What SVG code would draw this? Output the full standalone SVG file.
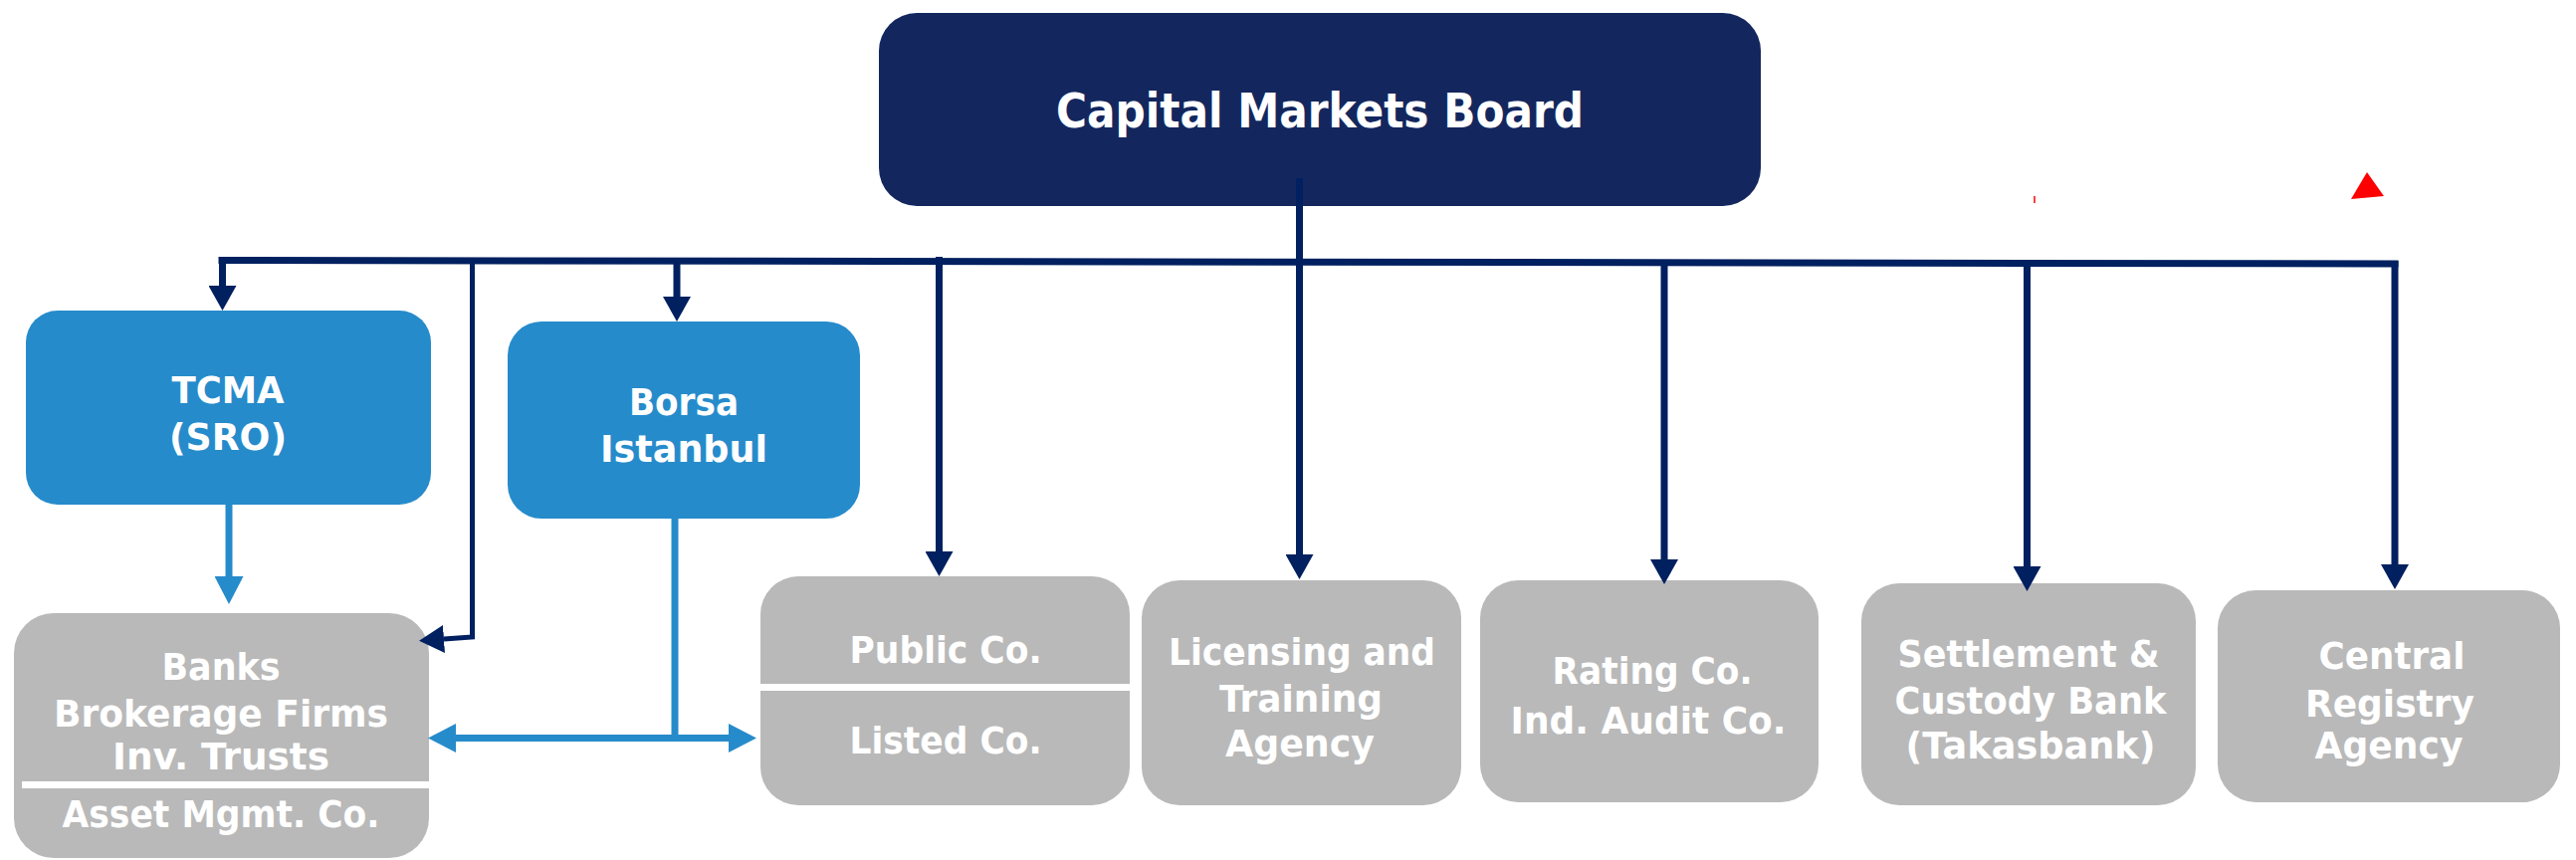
<svg xmlns="http://www.w3.org/2000/svg" width="2588" height="864" viewBox="0 0 2588 864">
<style>
.lbl{font-family:"DejaVu Sans","Verdana","Liberation Sans",sans-serif;font-weight:bold;font-size:38px;fill:#ffffff;text-anchor:middle}
.gray{fill:#B9B9B9}
.lblue{fill:#268BCB}
.navy{fill:none;stroke:#002060;stroke-width:7}
.blue{fill:none;stroke:#268BCB;stroke-width:7}
.div{stroke:#ffffff;stroke-width:7}
</style>
<defs>
<marker id="an" viewBox="0 0 25 28" refX="0" refY="14" markerWidth="25" markerHeight="28" markerUnits="userSpaceOnUse" orient="auto-start-reverse">
<path d="M0,0 L25,14 L0,28 z" fill="#002060"/>
</marker>
<marker id="ab" viewBox="0 0 28 29" refX="0" refY="14.5" markerWidth="28" markerHeight="29" markerUnits="userSpaceOnUse" orient="auto-start-reverse">
<path d="M0,0 L28,14.5 L0,29 z" fill="#268BCB"/>
</marker>
</defs>
<rect width="2588" height="864" fill="#ffffff"/>

<g id="cmb">
<rect x="883" y="13" width="886" height="194" rx="38" fill="#13275E"/>
<text class="lbl" x="1326" y="128" style="font-size:48px" textLength="530" lengthAdjust="spacingAndGlyphs">Capital Markets Board</text>
</g>

<g id="tcma">
<rect class="lblue" x="26" y="312" width="407" height="195" rx="32"/>
<text class="lbl" x="229" y="405" textLength="113" lengthAdjust="spacingAndGlyphs">TCMA</text>
<text class="lbl" x="229" y="452" textLength="118" lengthAdjust="spacingAndGlyphs">(SRO)</text>
</g>

<g id="borsa">
<rect class="lblue" x="510" y="323" width="354" height="198" rx="34"/>
<text class="lbl" x="687" y="417" textLength="110" lengthAdjust="spacingAndGlyphs">Borsa</text>
<text class="lbl" x="687" y="464" textLength="168" lengthAdjust="spacingAndGlyphs">Istanbul</text>
</g>

<g id="banks">
<rect class="gray" x="14" y="616" width="417" height="246" rx="40"/>
<line class="div" x1="22" y1="788.5" x2="431" y2="788.5"/>
<text class="lbl" x="222" y="683" textLength="119" lengthAdjust="spacingAndGlyphs">Banks</text>
<text class="lbl" x="222" y="730" textLength="336" lengthAdjust="spacingAndGlyphs">Brokerage Firms</text>
<text class="lbl" x="222" y="773" textLength="218" lengthAdjust="spacingAndGlyphs">Inv. Trusts</text>
<text class="lbl" x="222" y="831" textLength="319" lengthAdjust="spacingAndGlyphs">Asset Mgmt. Co.</text>
</g>

<g id="public">
<rect class="gray" x="764" y="579" width="371" height="230" rx="38"/>
<line class="div" x1="764" y1="690.5" x2="1135" y2="690.5"/>
<text class="lbl" x="950" y="666" textLength="193" lengthAdjust="spacingAndGlyphs">Public Co.</text>
<text class="lbl" x="950" y="757" textLength="193" lengthAdjust="spacingAndGlyphs">Listed Co.</text>
</g>

<g id="licensing">
<rect class="gray" x="1147" y="583" width="321" height="226" rx="38"/>
<text class="lbl" x="1308" y="668" textLength="268" lengthAdjust="spacingAndGlyphs">Licensing and</text>
<text class="lbl" x="1307" y="715" textLength="164" lengthAdjust="spacingAndGlyphs">Training</text>
<text class="lbl" x="1306" y="760" textLength="150" lengthAdjust="spacingAndGlyphs">Agency</text>
</g>

<g id="rating">
<rect class="gray" x="1487" y="583" width="340" height="223" rx="38"/>
<text class="lbl" x="1660" y="687" textLength="201" lengthAdjust="spacingAndGlyphs">Rating Co.</text>
<text class="lbl" x="1656" y="737" textLength="277" lengthAdjust="spacingAndGlyphs">Ind. Audit  Co.</text>
</g>

<g id="settlement">
<rect class="gray" x="1870" y="586" width="336" height="223" rx="38"/>
<text class="lbl" x="2038" y="670" textLength="263" lengthAdjust="spacingAndGlyphs">Settlement &amp;</text>
<text class="lbl" x="2040" y="717" textLength="273" lengthAdjust="spacingAndGlyphs">Custody Bank</text>
<text class="lbl" x="2040" y="762" textLength="251" lengthAdjust="spacingAndGlyphs">(Takasbank)</text>
</g>

<g id="central">
<rect class="gray" x="2228" y="593" width="344" height="213" rx="38"/>
<text class="lbl" x="2403" y="672" textLength="147" lengthAdjust="spacingAndGlyphs">Central</text>
<text class="lbl" x="2401" y="720" textLength="170" lengthAdjust="spacingAndGlyphs">Registry</text>
<text class="lbl" x="2400" y="762" textLength="149" lengthAdjust="spacingAndGlyphs">Agency</text>
</g>

<g id="connectors">
<line class="navy" x1="219.5" y1="261.5" x2="2409.5" y2="265"/>
<line class="navy" x1="1305.5" y1="179" x2="1305.5" y2="557" marker-end="url(#an)"/>
<polyline class="navy" points="223.5,262 223.5,287" marker-end="url(#an)"/>
<polyline class="navy" points="680,262 680,298" marker-end="url(#an)"/>
<polyline class="navy" style="stroke-width:5" points="474.5,262 474.5,640 446,642" marker-end="url(#an)"/>
<line class="navy" x1="943.5" y1="258" x2="943.5" y2="554" marker-end="url(#an)"/>
<line class="navy" x1="1672" y1="263" x2="1672" y2="562" marker-end="url(#an)"/>
<line class="navy" x1="2036.5" y1="264" x2="2036.5" y2="569" marker-end="url(#an)"/>
<line class="navy" x1="2406" y1="262" x2="2406" y2="567" marker-end="url(#an)"/>
<line class="blue" x1="230" y1="507" x2="230" y2="579" marker-end="url(#ab)"/>
<line class="blue" x1="678" y1="521" x2="678" y2="745"/>
<line class="blue" x1="458" y1="741.5" x2="732" y2="741.5" marker-start="url(#ab)" marker-end="url(#ab)"/>
<path d="M2044,197 L2044,204" stroke="#FF0000" stroke-width="1.5"/>
<polygon points="2378,173 2362,200 2395,197" fill="#FF0000"/>
</g>
</svg>
